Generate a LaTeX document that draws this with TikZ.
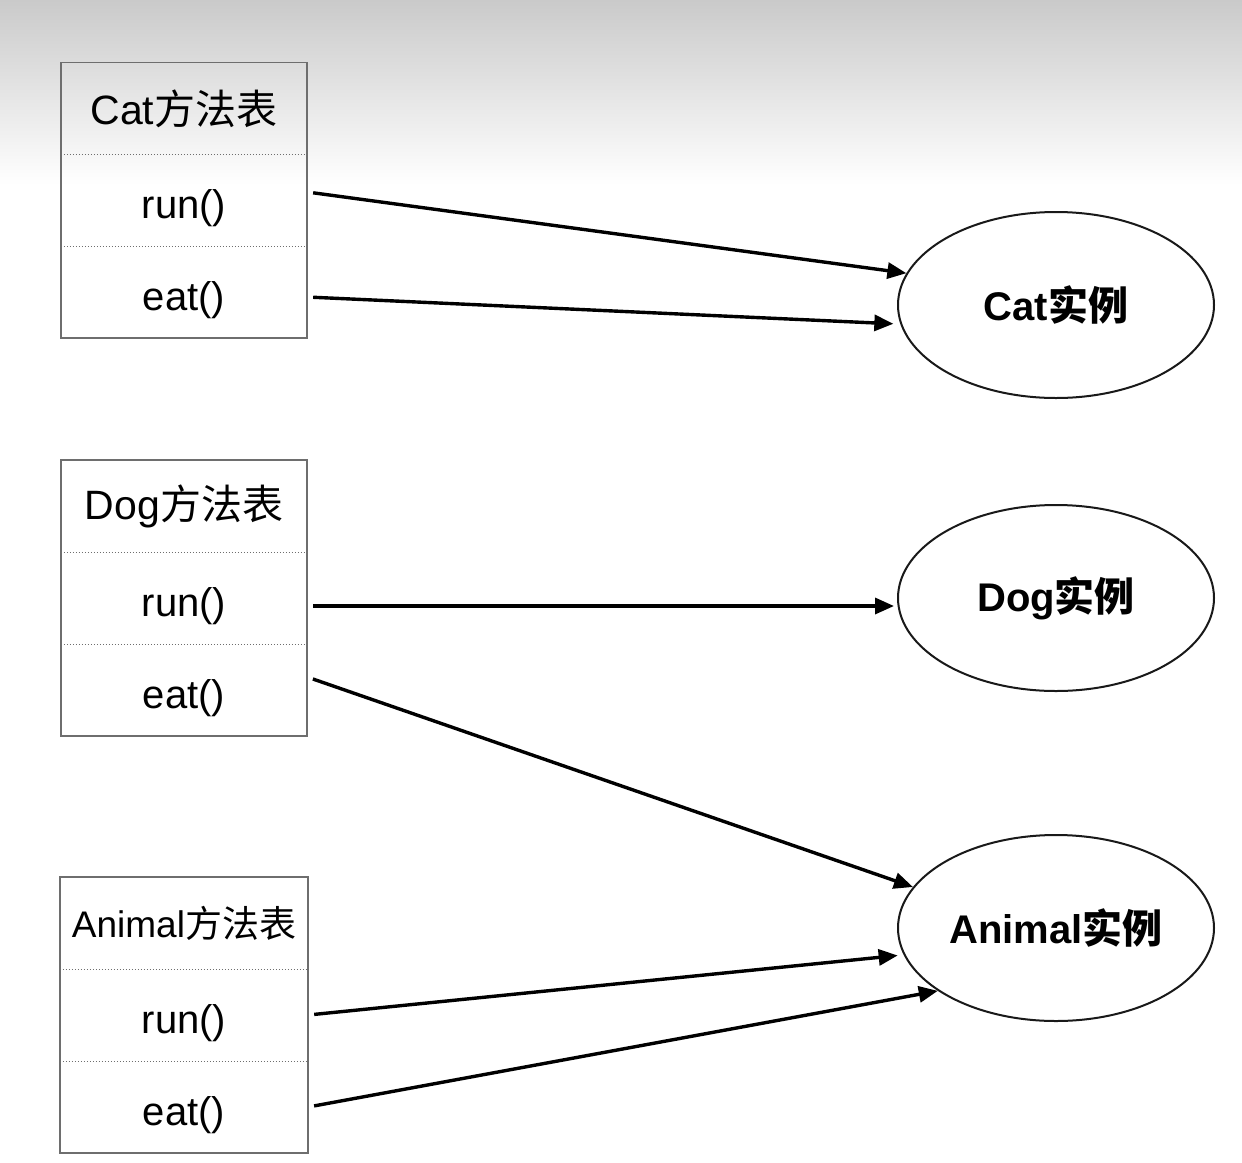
\documentclass[tikz,border=0pt]{standalone}
\usepackage{fontspec}
\setmainfont{Liberation Sans}
\newfontfamily\cjk{Noto Sans CJK SC}
\usetikzlibrary{arrows.meta,shapes.geometric}
\definecolor{topgray}{RGB}{202,202,202}
\definecolor{boxgray}{RGB}{110,110,110}
\begin{document}
\begin{tikzpicture}[x=1pt,y=-1pt,
  rowtxt/.style={draw=none,minimum width=246pt,minimum height=92pt,inner sep=0pt,
    font=\fontsize{40}{44}\selectfont},
  methtxt/.style={rowtxt,text height=38pt,text depth=2pt},
  tablebox/.style={draw=boxgray,line width=1.5pt},
  divider/.style={draw=boxgray,line width=1pt,dash pattern=on 1.5pt off 1.5pt},
  inst/.style={ellipse,draw=black!90,line width=2pt,minimum width=316pt,minimum height=186pt,
    inner sep=0pt,font=\fontsize{40}{44}\selectfont\bfseries},
  link/.style={line width=3.4pt,-{Triangle[length=19pt,width=16pt]},shorten <=6pt}]
\useasboundingbox (0,0) rectangle (1242,1162);
\fill[white] (0,0) rectangle (1242,1162);
\shade[top color=topgray,bottom color=white] (0,0) rectangle (1242,185);

% Cat table
\node[rowtxt,font=\fontsize{41}{44}\selectfont] (cath) at (184,108.5) {Cat{\cjk 方法表}};
\node[methtxt] (catrun) at (184,200) {run()};
\node[methtxt] (cateat) at (184,292) {eat()};
\draw[divider] (cath.south west) -- (cath.south east);
\draw[divider] (catrun.south west) -- (catrun.south east);
\draw[tablebox] (cath.north west) rectangle (cateat.south east);

% Dog table
\node[rowtxt,font=\fontsize{41}{44}\selectfont] (dogh) at (184,506) {Dog{\cjk 方法表}};
\node[methtxt] (dogrun) at (184,598) {run()};
\node[methtxt] (dogeat) at (184,690) {eat()};
\draw[divider] (dogh.south west) -- (dogh.south east);
\draw[divider] (dogrun.south west) -- (dogrun.south east);
\draw[tablebox] (dogh.north west) rectangle (dogeat.south east);

% Animal table
\node[rowtxt,minimum width=248pt,font=\fontsize{37}{40}\selectfont] (anih) at (184,923) {Animal{\cjk 方法表}};
\node[methtxt,minimum width=248pt] (anirun) at (184,1015) {run()};
\node[methtxt,minimum width=248pt] (anieat) at (184,1107) {eat()};
\draw[divider] (anih.south west) -- (anih.south east);
\draw[divider] (anirun.south west) -- (anirun.south east);
\draw[tablebox] (anih.north west) rectangle (anieat.south east);

% Instances
\node[inst] (catI) at (1056,305) {Cat{\cjk\bfseries 实例}};
\node[inst] (dogI) at (1056,598) {Dog{\cjk\bfseries 实例}};
\node[inst] (aniI) at (1056,928) {Animal{\cjk\bfseries 实例}};

% Links
\draw[link] ([yshift=8pt]catrun.east) -- (catI.168);
\draw[link,shorten >=7pt] ([yshift=-5pt]cateat.east) -- (catI.187);
\draw[link,shorten >=3pt] ([yshift=-8pt]dogrun.east) -- ([yshift=-8pt]dogI.west);
\draw[link] ([yshift=13pt]dogeat.east) -- (aniI.164.7);
\draw[link,shorten >=6pt] (anirun.east) -- (aniI.190);
\draw[link] (anieat.east) -- (aniI.208);
\end{tikzpicture}
\end{document}
